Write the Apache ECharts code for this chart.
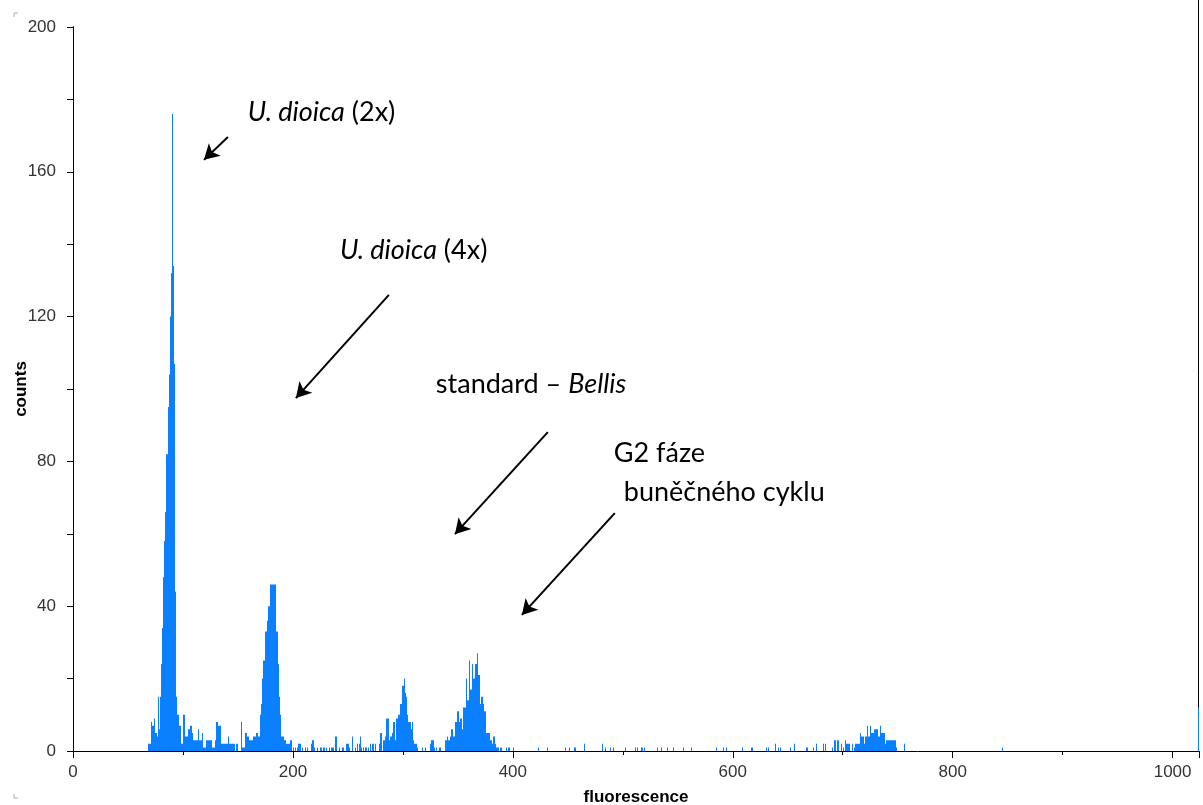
<!DOCTYPE html>
<html>
<head>
<meta charset="utf-8">
<script src="https://cdn.jsdelivr.net/npm/echarts@6/dist/echarts.min.js"></script>
<style>
html,body{margin:0;padding:0;background:#fff;}
#chart{width:1203px;height:805px;}
</style>
</head>
<body>
<div id="chart"></div>
<script>
// Histogram bins: [channel, counts]
const binsPeak90 = [[68,2],[69,2],[70,2],[71,8],[72,7],[73,7],[74,9],[75,5],[76,4],[77,15],[78,6],[79,15],[80,24],[81,34],[82,48],[83,58],[84,66],[85,82],[86,95],[87,104],[88,120],[89,132],[90,176],[91,134],[92,107],[93,44],[94,15],[95,10],[96,7],[97,7]];
const binsBackground1 = [[98,2],[99,2],[100,10],[101,10],[102,4],[103,4],[104,4],[105,6],[106,7],[107,7],[108,5],[109,3],[110,3],[111,3],[112,3],[113,3],[114,6],[115,3],[116,3],[117,5],[118,1],[119,1],[120,1],[121,3],[122,3],[123,3],[124,3],[125,3],[126,1],[127,1],[128,1],[129,3],[130,8],[131,8],[132,7],[133,7],[134,7],[135,2],[136,2],[137,2],[138,2],[139,2],[140,2],[141,4],[142,2],[143,2],[144,2],[145,2],[146,2],[148,2],[149,2],[153,8],[154,1],[155,1],[156,5],[157,5],[158,4],[159,4],[160,3],[161,3],[162,3],[163,3],[164,4],[165,4],[166,5],[167,5]];
const binsPeak180 = [[168,4],[169,4],[170,10],[171,13],[172,20],[173,25],[174,25],[175,33],[176,36],[177,40],[178,40],[179,46],[180,46],[181,46],[182,46],[183,46],[184,46],[185,33],[186,24],[187,15],[188,10],[189,4],[190,4],[191,4],[192,3],[193,3],[194,2],[195,2],[196,2],[197,3],[198,3]];
const binsBackground2 = [[200,1],[202,1],[204,1],[205,2],[206,2],[208,1],[211,1],[213,1],[216,2],[217,3],[218,3],[219,1],[222,1],[225,1],[227,1],[228,1],[230,1],[233,1],[235,1],[236,1],[238,4],[239,4],[242,1],[245,1],[248,2],[249,2],[250,2],[251,1],[254,4],[256,1],[258,2],[260,2],[261,4],[262,1],[264,1],[266,1],[268,1]];
const binsPeak300 = [[270,2],[272,2],[273,2],[275,2],[278,2],[279,5],[280,5],[282,3],[283,3],[284,4],[285,9],[286,9],[287,3],[288,4],[289,4],[290,5],[291,8],[292,8],[293,3],[294,9],[295,9],[296,10],[297,13],[298,13],[299,18],[300,18],[301,20],[302,16],[303,15],[304,10],[305,8],[306,8],[307,6],[308,8],[309,3],[310,2],[311,2],[312,2],[313,1],[317,1],[320,1],[325,2],[326,3],[327,3],[328,1],[330,1],[333,1],[334,1]];
const binsPeak363 = [[338,3],[339,3],[340,4],[341,3],[342,3],[343,4],[344,6],[345,6],[346,4],[347,8],[348,8],[349,11],[350,11],[351,8],[352,9],[353,9],[354,6],[355,12],[356,12],[357,20],[358,14],[359,14],[360,25],[361,17],[362,17],[363,24],[364,20],[365,20],[366,24],[367,27],[368,21],[369,21],[370,13],[371,15],[372,15],[373,13],[374,11],[375,11],[376,5],[377,5],[378,5],[379,3],[380,3],[381,2],[382,4],[383,4],[384,2],[385,1],[386,1],[388,1],[389,1],[394,1],[396,1]];
const binsBackground3 = [[400,1],[423,1],[431,1],[447,1],[451,1],[456,1],[465,2],[481,2],[484,1],[488,1],[491,1],[502,1],[511,1],[513,1],[517,1],[519,1],[531,1],[535,1],[540,1],[546,1],[555,1],[562,1],[585,1],[591,1],[594,1],[608,1],[617,1],[630,1],[632,1],[638,2],[641,1],[643,1],[652,1],[656,2],[667,1],[673,1],[676,2],[682,2],[684,2]];
const binsG2 = [[690,1],[692,3],[693,3],[695,3],[696,3],[698,2],[700,1],[702,3],[703,2],[704,2],[705,2],[706,2],[708,2],[710,1],[711,2],[712,2],[713,2],[714,2],[715,2],[716,5],[717,4],[718,4],[719,2],[720,4],[721,4],[722,7],[723,4],[724,4],[725,7],[726,5],[727,5],[728,6],[729,6],[730,6],[731,6],[732,4],[733,4],[734,7],[735,5],[736,5],[737,5],[738,2],[739,3],[740,3],[741,3],[742,3],[743,3],[744,3],[745,3],[746,3],[747,3],[748,1],[756,2]];
const binsTail = [[845,1],[1023,12]];

const xTicks = {min: 0, max: 1024, interval: 200};
const yTicks = {min: 0, max: 200, interval: 40};

// Annotations in data coordinates
const labels = [
  {parts: [['U. dioica', 'it'], [' (2x)', 'n']], at: [159, 176.5]},
  {parts: [['U. dioica', 'it'], [' (4x)', 'n']], at: [242.7, 138.4]},
  {parts: [['standard – ', 'n'], ['Bellis', 'it']], at: [330, 101.4]},
  {parts: [['G2 fáze', 'n']], at: [491.8, 82.3]},
  {parts: [['buněčného cyklu', 'n']], at: [500.9, 71.5]}
];
const arrows = [
  [[140.9, 169.6], [119.1, 163.3]],
  [[287.3, 126.0], [202.7, 97.5]],
  [[431.8, 88.1], [347.3, 59.9]],
  [[492.7, 65.7], [408.2, 37.6]]
];

const allBins = [].concat(binsPeak90, binsBackground1, binsPeak180, binsBackground2, binsPeak300, binsPeak363, binsBackground3, binsG2, binsTail);

const tickFont = "'Liberation Sans', Arial, sans-serif";
const chart = echarts.init(document.getElementById('chart'), null, {renderer: 'canvas'});

chart.setOption({
  animation: false,
  backgroundColor: '#ffffff',
  grid: {left: 73, right: 4, top: 27, bottom: 54, containLabel: false, outerBoundsMode: 'none'},
  xAxis: {
    type: 'value', min: xTicks.min, max: xTicks.max, interval: xTicks.interval,
    name: 'fluorescence', nameLocation: 'middle', nameGap: 38,
    nameTextStyle: {fontFamily: 'Liberation Sans, Arial, sans-serif', fontWeight: 'bold', fontSize: 17, color: '#000'},
    axisLine: {show: true, onZero: false, lineStyle: {color: '#000', width: 1}},
    axisTick: {show: true, inside: false, length: 7, lineStyle: {color: '#000'}},
    minorTick: {show: true, splitNumber: 2, length: 4, lineStyle: {color: '#000'}},
    axisLabel: {fontFamily: tickFont, fontSize: 17, color: '#333', margin: 13, showMaxLabel: false,
      formatter: v => (v % 200 === 0 ? String(v) : '')},
    splitLine: {show: false}, minorSplitLine: {show: false}
  },
  yAxis: [{
    type: 'value', min: yTicks.min, max: yTicks.max, interval: yTicks.interval,
    name: 'counts', nameLocation: 'middle', nameGap: 43, nameRotate: 90, nameMoveOverlap: false,
    nameTextStyle: {fontFamily: 'Liberation Sans, Arial, sans-serif', fontWeight: 'bold', fontSize: 17, color: '#000'},
    axisLine: {show: true, onZero: false, lineStyle: {color: '#000', width: 1}},
    axisTick: {show: true, inside: false, length: 6, lineStyle: {color: '#000'}},
    minorTick: {show: true, splitNumber: 2, length: 6, lineStyle: {color: '#000'}},
    axisLabel: {fontFamily: tickFont, fontSize: 17, color: '#333', margin: 17},
    splitLine: {show: false}, minorSplitLine: {show: false}
  }, {
    type: 'value', min: yTicks.min, max: yTicks.max, position: 'right',
    axisLine: {show: true, lineStyle: {color: '#000', width: 1}},
    axisTick: {show: false}, axisLabel: {show: false}, splitLine: {show: false}
  }],
  series: [{
    type: 'custom',
    xAxisIndex: 0, yAxisIndex: 0,
    data: allBins,
    renderItem: function (params, api) {
      const ch = api.value(0), c = api.value(1);
      const p0 = api.coord([ch, c]);
      const p1 = api.coord([ch + 1, 0]);
      const x0 = Math.round(p0[0]);
      const x1 = Math.max(x0 + 1, Math.round(p1[0]));
      return {type: 'rect', shape: {x: x0, y: p0[1], width: x1 - x0, height: p1[1] - p0[1]},
        style: {fill: '#0a80ff'}};
    },
    markLine: {
      silent: true, animation: false,
      symbol: ['none', 'arrow'], symbolSize: [13, 15],
      lineStyle: {color: '#000', width: 2, type: 'solid'},
      label: {show: false},
      data: arrows.map(a => [{coord: a[0]}, {coord: a[1]}])
    }
  }]
});

const annotFont = "Lato, 'Open Sans', sans-serif";
const graphics = labels.map(l => {
  const p = chart.convertToPixel({xAxisIndex: 0, yAxisIndex: 0}, l.at);
  return {
    type: 'text', x: p[0], y: p[1],
    style: {
      text: l.parts.map(pt => '{' + pt[1] + '|' + pt[0] + '}').join(''),
      verticalAlign: 'middle', align: 'left',
      rich: {
        it: {fontFamily: annotFont, fontSize: 27, fontStyle: 'italic', fill: '#000'},
        n: {fontFamily: annotFont, fontSize: 27, fill: '#000'}
      }
    }
  };
});
const rb = chart.convertToPixel({xAxisIndex: 0, yAxisIndex: 0}, [xTicks.max, 0]);
graphics.push({type: 'line', shape: {x1: rb[0] - 0.5, y1: 0, x2: rb[0] - 0.5, y2: rb[1]}, style: {stroke: '#000', lineWidth: 1}});
graphics.push({type: 'polyline', shape: {points: [[14, 17], [14, 13], [18, 13]]}, style: {stroke: '#aaa', lineWidth: 1, fill: null}});
graphics.push({type: 'polyline', shape: {points: [[14, 794], [14, 798], [18, 798]]}, style: {stroke: '#aaa', lineWidth: 1, fill: null}});
chart.setOption({graphic: graphics});
</script>
</body>
</html>
